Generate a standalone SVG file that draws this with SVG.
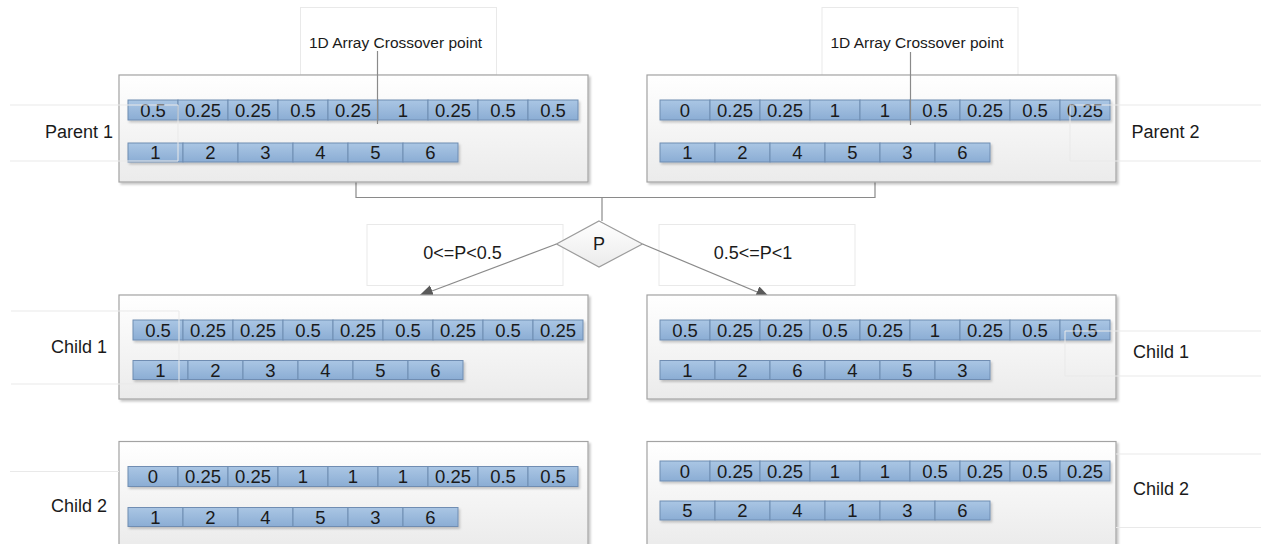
<svg xmlns="http://www.w3.org/2000/svg" xmlns:xlink="http://www.w3.org/1999/xlink" width="1261" height="544" viewBox="0 0 1261 544">
<defs>
<linearGradient id="boxGrad" x1="0" y1="0" x2="0" y2="1">
<stop offset="0" stop-color="#ffffff"/>
<stop offset="1" stop-color="#ebebeb"/>
</linearGradient>
<linearGradient id="cellGrad" x1="0" y1="0" x2="0" y2="1">
<stop offset="0" stop-color="#aac6e4"/>
<stop offset="1" stop-color="#8badd4"/>
</linearGradient>
<filter id="sh" x="-5%" y="-10%" width="110%" height="130%">
<feDropShadow dx="2" dy="2" stdDeviation="1.2" flood-color="#000" flood-opacity="0.22"/>
</filter>
<filter id="sh2" x="-5%" y="-30%" width="110%" height="180%">
<feDropShadow dx="1.5" dy="2" stdDeviation="1" flood-color="#000" flood-opacity="0.2"/>
</filter>
<marker id="arr" markerWidth="14" markerHeight="12" refX="13" refY="6" orient="auto" markerUnits="userSpaceOnUse">
<path d="M0,0 L14,6 L0,12 Z" fill="#5a5a5a"/>
</marker>
<rect id="c50" width="50" height="20" class="cell"/>
<rect id="c55" width="55" height="19" class="cell"/>
</defs>
<style>
.box{fill:url(#boxGrad);stroke:#a3a3a3;stroke-width:1.2;filter:url(#sh)}
.cell{fill:url(#cellGrad);stroke:#6f8db2;stroke-width:1}
.row{filter:url(#sh2)}
.t{font-family:"Liberation Sans",Arial,sans-serif;font-size:18.5px;fill:#1a1a1a;text-anchor:middle}
.lbl{font-family:"Liberation Sans",Arial,sans-serif;font-size:18px;fill:#1a1a1a;text-anchor:middle}
.small{font-family:"Liberation Sans",Arial,sans-serif;font-size:15.5px;fill:#1a1a1a;text-anchor:middle}
.faint{fill:none;stroke:#e9e9e9;stroke-width:1}
.conn{fill:none;stroke:#8a8a8a;stroke-width:1.2}
.dia{fill:url(#boxGrad);stroke:#9c9c9c;stroke-width:1.2}
</style>
<rect width="1261" height="544" fill="#ffffff"/>

<!-- faint annotation label boxes -->
<g id="annot-boxes">
<rect class="faint" x="300.5" y="7.5" width="196" height="67.5"/>
<rect class="faint" x="822" y="7.5" width="196" height="73.5"/>
<rect class="faint" x="367" y="224.5" width="196" height="61"/>
<rect class="faint" x="659" y="224.5" width="196" height="61"/>
</g>

<g id="connectors">
<polyline class="conn" points="356,182 356,197.5 875,197.5 875,182"/>
<line class="conn" x1="602" y1="197.5" x2="602" y2="221"/>
<line class="conn" x1="556.5" y1="244" x2="420" y2="295.5" marker-end="url(#arr)"/>
<line class="conn" x1="642.5" y1="244" x2="769" y2="297" marker-end="url(#arr)"/>
</g>

<g id="parent1">
<rect class="box" x="119" y="75" width="469" height="107"/>
<g class="row" transform="translate(128,100)">
<use href="#c50" x="0"/><use href="#c50" x="50"/><use href="#c50" x="100"/><use href="#c50" x="150"/><use href="#c50" x="200"/><use href="#c50" x="250"/><use href="#c50" x="300"/><use href="#c50" x="350"/><use href="#c50" x="400"/>
</g>
<g transform="translate(128,100)">
<text class="t" x="25" y="16.5">0.5</text><text class="t" x="75" y="16.5">0.25</text><text class="t" x="125" y="16.5">0.25</text><text class="t" x="175" y="16.5">0.5</text><text class="t" x="225" y="16.5">0.25</text><text class="t" x="275" y="16.5">1</text><text class="t" x="325" y="16.5">0.25</text><text class="t" x="375" y="16.5">0.5</text><text class="t" x="425" y="16.5">0.5</text>
</g>
<g class="row" transform="translate(128,143)">
<use href="#c55" x="0"/><use href="#c55" x="55"/><use href="#c55" x="110"/><use href="#c55" x="165"/><use href="#c55" x="220"/><use href="#c55" x="275"/>
</g>
<g transform="translate(128,143)">
<text class="t" x="27.5" y="16">1</text><text class="t" x="82.5" y="16">2</text><text class="t" x="137.5" y="16">3</text><text class="t" x="192.5" y="16">4</text><text class="t" x="247.5" y="16">5</text><text class="t" x="302.5" y="16">6</text>
</g>
<path class="faint" d="M10,105 H178 V161 H10"/>
<text class="lbl" x="79" y="137.5">Parent 1</text>
<line class="conn" x1="377.5" y1="51" x2="377.5" y2="124"/>
<text class="small" x="395.5" y="47.5">1D Array Crossover point</text>
</g>

<g id="parent2">
<rect class="box" x="647" y="75" width="469" height="107"/>
<g class="row" transform="translate(660,100)">
<use href="#c50" x="0"/><use href="#c50" x="50"/><use href="#c50" x="100"/><use href="#c50" x="150"/><use href="#c50" x="200"/><use href="#c50" x="250"/><use href="#c50" x="300"/><use href="#c50" x="350"/><use href="#c50" x="400"/>
</g>
<g transform="translate(660,100)">
<text class="t" x="25" y="16.5">0</text><text class="t" x="75" y="16.5">0.25</text><text class="t" x="125" y="16.5">0.25</text><text class="t" x="175" y="16.5">1</text><text class="t" x="225" y="16.5">1</text><text class="t" x="275" y="16.5">0.5</text><text class="t" x="325" y="16.5">0.25</text><text class="t" x="375" y="16.5">0.5</text><text class="t" x="425" y="16.5">0.25</text>
</g>
<g class="row" transform="translate(660,143)">
<use href="#c55" x="0"/><use href="#c55" x="55"/><use href="#c55" x="110"/><use href="#c55" x="165"/><use href="#c55" x="220"/><use href="#c55" x="275"/>
</g>
<g transform="translate(660,143)">
<text class="t" x="27.5" y="16">1</text><text class="t" x="82.5" y="16">2</text><text class="t" x="137.5" y="16">4</text><text class="t" x="192.5" y="16">5</text><text class="t" x="247.5" y="16">3</text><text class="t" x="302.5" y="16">6</text>
</g>
<path class="faint" d="M1262,105 H1070 V161 H1262"/>
<text class="lbl" x="1165.5" y="137.5">Parent 2</text>
<line class="conn" x1="910.5" y1="52" x2="910.5" y2="125"/>
<text class="small" x="917" y="47.5">1D Array Crossover point</text>
</g>

<g id="decision">
<polygon class="dia" points="599,221 642.5,244 599,267 556.5,244"/>
<text class="lbl" x="599" y="250">P</text>
<text class="lbl" x="462.5" y="258.5">0&lt;=P&lt;0.5</text>
<text class="lbl" x="753" y="258.5">0.5&lt;=P&lt;1</text>
</g>

<g id="child1-left">
<rect class="box" x="119" y="295" width="469" height="104"/>
<g class="row" transform="translate(133,320)">
<use href="#c50" x="0"/><use href="#c50" x="50"/><use href="#c50" x="100"/><use href="#c50" x="150"/><use href="#c50" x="200"/><use href="#c50" x="250"/><use href="#c50" x="300"/><use href="#c50" x="350"/><use href="#c50" x="400"/>
</g>
<g transform="translate(133,320)">
<text class="t" x="25" y="16.5">0.5</text><text class="t" x="75" y="16.5">0.25</text><text class="t" x="125" y="16.5">0.25</text><text class="t" x="175" y="16.5">0.5</text><text class="t" x="225" y="16.5">0.25</text><text class="t" x="275" y="16.5">0.5</text><text class="t" x="325" y="16.5">0.25</text><text class="t" x="375" y="16.5">0.5</text><text class="t" x="425" y="16.5">0.25</text>
</g>
<g class="row" transform="translate(133,360.5)">
<use href="#c55" x="0"/><use href="#c55" x="55"/><use href="#c55" x="110"/><use href="#c55" x="165"/><use href="#c55" x="220"/><use href="#c55" x="275"/>
</g>
<g transform="translate(133,360.5)">
<text class="t" x="27.5" y="16">1</text><text class="t" x="82.5" y="16">2</text><text class="t" x="137.5" y="16">3</text><text class="t" x="192.5" y="16">4</text><text class="t" x="247.5" y="16">5</text><text class="t" x="302.5" y="16">6</text>
</g>
<path class="faint" d="M11,311 H179 V384 H11"/>
<text class="lbl" x="79" y="353">Child 1</text>
</g>

<g id="child1-right">
<rect class="box" x="647" y="295" width="469" height="104"/>
<g class="row" transform="translate(660,320)">
<use href="#c50" x="0"/><use href="#c50" x="50"/><use href="#c50" x="100"/><use href="#c50" x="150"/><use href="#c50" x="200"/><use href="#c50" x="250"/><use href="#c50" x="300"/><use href="#c50" x="350"/><use href="#c50" x="400"/>
</g>
<g transform="translate(660,320)">
<text class="t" x="25" y="16.5">0.5</text><text class="t" x="75" y="16.5">0.25</text><text class="t" x="125" y="16.5">0.25</text><text class="t" x="175" y="16.5">0.5</text><text class="t" x="225" y="16.5">0.25</text><text class="t" x="275" y="16.5">1</text><text class="t" x="325" y="16.5">0.25</text><text class="t" x="375" y="16.5">0.5</text><text class="t" x="425" y="16.5">0.5</text>
</g>
<g class="row" transform="translate(660,360.5)">
<use href="#c55" x="0"/><use href="#c55" x="55"/><use href="#c55" x="110"/><use href="#c55" x="165"/><use href="#c55" x="220"/><use href="#c55" x="275"/>
</g>
<g transform="translate(660,360.5)">
<text class="t" x="27.5" y="16">1</text><text class="t" x="82.5" y="16">2</text><text class="t" x="137.5" y="16">6</text><text class="t" x="192.5" y="16">4</text><text class="t" x="247.5" y="16">5</text><text class="t" x="302.5" y="16">3</text>
</g>
<path class="faint" d="M1262,331 H1065 V376 H1262"/>
<text class="lbl" x="1161" y="358">Child 1</text>
</g>

<g id="child2-left">
<rect class="box" x="119" y="441.5" width="469" height="106"/>
<g class="row" transform="translate(128,466.5)">
<use href="#c50" x="0"/><use href="#c50" x="50"/><use href="#c50" x="100"/><use href="#c50" x="150"/><use href="#c50" x="200"/><use href="#c50" x="250"/><use href="#c50" x="300"/><use href="#c50" x="350"/><use href="#c50" x="400"/>
</g>
<g transform="translate(128,466.5)">
<text class="t" x="25" y="16.5">0</text><text class="t" x="75" y="16.5">0.25</text><text class="t" x="125" y="16.5">0.25</text><text class="t" x="175" y="16.5">1</text><text class="t" x="225" y="16.5">1</text><text class="t" x="275" y="16.5">1</text><text class="t" x="325" y="16.5">0.25</text><text class="t" x="375" y="16.5">0.5</text><text class="t" x="425" y="16.5">0.5</text>
</g>
<g class="row" transform="translate(128,507.5)">
<use href="#c55" x="0"/><use href="#c55" x="55"/><use href="#c55" x="110"/><use href="#c55" x="165"/><use href="#c55" x="220"/><use href="#c55" x="275"/>
</g>
<g transform="translate(128,507.5)">
<text class="t" x="27.5" y="16">1</text><text class="t" x="82.5" y="16">2</text><text class="t" x="137.5" y="16">4</text><text class="t" x="192.5" y="16">5</text><text class="t" x="247.5" y="16">3</text><text class="t" x="302.5" y="16">6</text>
</g>
<line class="faint" x1="10" y1="471.5" x2="119" y2="471.5"/>
<text class="lbl" x="79" y="512">Child 2</text>
</g>

<g id="child2-right">
<rect class="box" x="647" y="441.5" width="469" height="106"/>
<g class="row" transform="translate(660,461)">
<use href="#c50" x="0"/><use href="#c50" x="50"/><use href="#c50" x="100"/><use href="#c50" x="150"/><use href="#c50" x="200"/><use href="#c50" x="250"/><use href="#c50" x="300"/><use href="#c50" x="350"/><use href="#c50" x="400"/>
</g>
<g transform="translate(660,461)">
<text class="t" x="25" y="16.5">0</text><text class="t" x="75" y="16.5">0.25</text><text class="t" x="125" y="16.5">0.25</text><text class="t" x="175" y="16.5">1</text><text class="t" x="225" y="16.5">1</text><text class="t" x="275" y="16.5">0.5</text><text class="t" x="325" y="16.5">0.25</text><text class="t" x="375" y="16.5">0.5</text><text class="t" x="425" y="16.5">0.25</text>
</g>
<g class="row" transform="translate(660,501)">
<use href="#c55" x="0"/><use href="#c55" x="55"/><use href="#c55" x="110"/><use href="#c55" x="165"/><use href="#c55" x="220"/><use href="#c55" x="275"/>
</g>
<g transform="translate(660,501)">
<text class="t" x="27.5" y="16">5</text><text class="t" x="82.5" y="16">2</text><text class="t" x="137.5" y="16">4</text><text class="t" x="192.5" y="16">1</text><text class="t" x="247.5" y="16">3</text><text class="t" x="302.5" y="16">6</text>
</g>
<line class="faint" x1="1116" y1="454" x2="1261" y2="454"/>
<line class="faint" x1="1116" y1="527.5" x2="1261" y2="527.5"/>
<text class="lbl" x="1161" y="495">Child 2</text>
</g>
</svg>
